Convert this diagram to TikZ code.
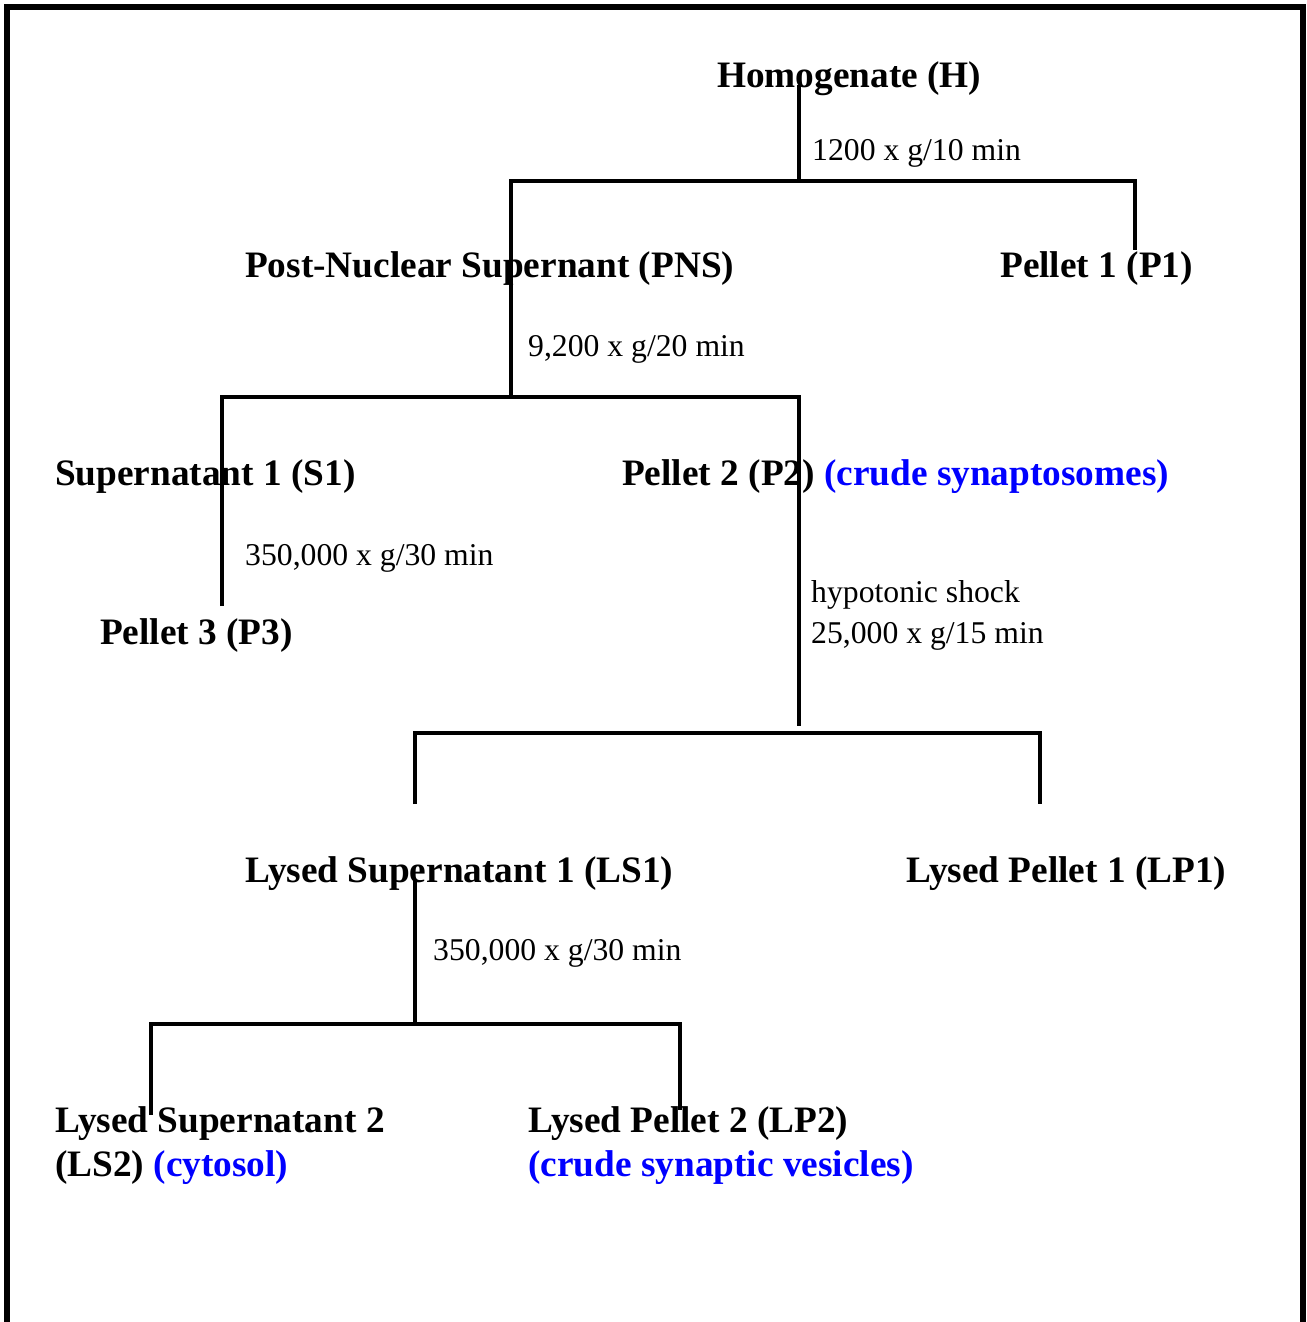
\documentclass[tikz,border=0pt]{standalone}
\usepackage{fontspec}
\setmainfont{Liberation Serif}
\definecolor{lblue}{RGB}{0,0,255}
\tikzset{
  lbl/.style={anchor=base west, inner sep=0pt, font=\fontsize{37.3}{44}\selectfont\bfseries},
  cond/.style={anchor=base west, inner sep=0pt, font=\fontsize{31.7}{41}\selectfont},
  conn/.style={line width=3.2pt},
  frame/.style={line width=6pt}
}
\begin{document}
\begin{tikzpicture}[x=1pt,y=-1pt]
\useasboundingbox (0,0) rectangle (1306,1322);
\fill[white] (0,0) rectangle (1306,1322);
\draw[frame] (7,1325) -- (7,7) -- (1303,7) -- (1303,1325);

% texts
\node[lbl] (H) at (717,87) {Homogenate (H)};
\node[cond] (c1) at (812,160) {1200 x g/10 min};
\node[lbl] (PNS) at (245,277) {Post-Nuclear Supernant (PNS)};
\node[lbl] (P1) at (1000,277) {Pellet 1 (P1)};
\node[cond] (c2) at (528,356) {9,200 x g/20 min};
\node[lbl] (S1) at (55,485) {Supernatant 1 (S1)};
\node[lbl] (P2) at (622,485) {Pellet 2 (P2) \textcolor{lblue}{(crude synaptosomes)}};
\node[cond] (c3) at (245,565) {350,000 x g/30 min};
\node[lbl] (P3) at (100,644) {Pellet 3 (P3)};
\node[cond] (c4a) at (811,602) {hypotonic shock};
\node[cond] (c4b) at (811,643) {25,000 x g/15 min};
\node[lbl] (LS1) at (245,882) {Lysed Supernatant 1 (LS1)};
\node[lbl] (LP1) at (906,882) {Lysed Pellet 1 (LP1)};
\node[cond] (c5) at (433,960) {350,000 x g/30 min};
\node[lbl] (LS2a) at (55,1132) {Lysed Supernatant 2};
\node[lbl] (LS2b) at (55,1176) {(LS2) \textcolor{lblue}{(cytosol)}};
\node[lbl] (LP2a) at (528,1132) {Lysed Pellet 2 (LP2)};
\node[lbl,text=lblue] (LP2b) at (528,1176) {(crude synaptic vesicles)};

% junction coordinates
\coordinate (hTop) at (799,85);
\coordinate (j1) at (799,181);
\coordinate (j1L) at (511,181);
\coordinate (j1R) at (1135,181);
\coordinate (p1End) at (1135,250);
\coordinate (j2) at (511,397);
\coordinate (j2L) at (222,397);
\coordinate (j2R) at (799,397);
\coordinate (s1End) at (222,606);
\coordinate (p2End) at (799,726);
\coordinate (j3L) at (415,733);
\coordinate (j3R) at (1040,733);
\coordinate (ls1End) at (415,804);
\coordinate (lp1End) at (1040,804);
\coordinate (ls1Top) at (415,880);
\coordinate (j4) at (415,1024);
\coordinate (j4L) at (151,1024);
\coordinate (j4R) at (680,1024);
\coordinate (ls2End) at (151,1115);
\coordinate (lp2End) at (680,1110);

% connectors
\draw[conn] (hTop) -- (j1);
\draw[conn] (j2) -- (j1L) -- (j1R) -- (p1End);
\draw[conn] (s1End) -- (j2L) -- (j2R) -- (p2End);
\draw[conn] (ls1End) -- (j3L) -- (j3R) -- (lp1End);
\draw[conn] (ls1Top) -- (j4);
\draw[conn] (ls2End) -- (j4L) -- (j4R) -- (lp2End);
\end{tikzpicture}
\end{document}
